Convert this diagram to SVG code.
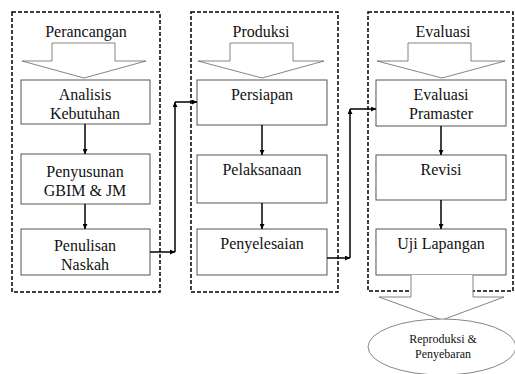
<svg xmlns="http://www.w3.org/2000/svg" width="515" height="374" viewBox="0 0 515 374">
<defs>
<marker id="ah" viewBox="0 0 10 10" refX="10" refY="5" markerWidth="5" markerHeight="5" orient="auto" markerUnits="userSpaceOnUse">
<path d="M0,0 L10,5 L0,10 Z" fill="#000"/>
</marker>
</defs>
<style>
.panel{fill:none;stroke:#000;stroke-width:1.5;stroke-dasharray:4,2}
.box{fill:#fff;stroke:#555;stroke-width:1}
.blk{fill:#fff;stroke:#666;stroke-width:0.8}
.t{font-size:16px;fill:#111;text-anchor:middle}
.s{font-size:12px;fill:#111;text-anchor:middle}
.c{fill:none;stroke:#000;stroke-width:1.5;marker-end:url(#ah)}
</style>
<rect width="515" height="374" fill="#fff"/>
<g font-family="'Liberation Serif', 'DejaVu Serif', serif">
<g id="panel-perancangan">
<rect class="panel" x="12" y="12" width="148" height="280"/>
<text class="t" x="86" y="37">Perancangan</text>
<path class="blk" d="M52,43 H115 V61 H146 L84,78 L22,61 H52 Z"/>
</g>
<g id="panel-produksi">
<rect class="panel" x="191" y="12" width="147" height="280"/>
<text class="t" x="261" y="37">Produksi</text>
<path class="blk" d="M230,43 H293 V61 H324 L262,78 L198,61 H230 Z"/>
</g>
<g id="panel-evaluasi">
<rect class="panel" x="368" y="12" width="145" height="279"/>
<text class="t" x="443" y="37">Evaluasi</text>
<path class="blk" d="M408,43 H471 V61 H505 L442,78 L377,61 H408 Z"/>
</g>
<g id="analisis">
<rect class="box" x="21" y="80" width="129" height="44"/>
<text class="t" x="85" y="100">Analisis</text>
<text class="t" x="85" y="119">Kebutuhan</text>
</g>
<g id="penyusunan">
<rect class="box" x="21" y="154" width="129" height="50"/>
<text class="t" x="85" y="177">Penyusunan</text>
<text class="t" x="85" y="196">GBIM &amp; JM</text>
</g>
<g id="penulisan">
<rect class="box" x="21" y="229" width="129" height="46"/>
<text class="t" x="85" y="251">Penulisan</text>
<text class="t" x="85" y="270">Naskah</text>
</g>
<g id="persiapan">
<rect class="box" x="197" y="80" width="130" height="45"/>
<text class="t" x="262" y="100">Persiapan</text>
</g>
<g id="pelaksanaan">
<rect class="box" x="197" y="155" width="130" height="48"/>
<text class="t" x="262" y="175">Pelaksanaan</text>
</g>
<g id="penyelesaian">
<rect class="box" x="197" y="229" width="130" height="46"/>
<text class="t" x="262" y="249">Penyelesaian</text>
</g>
<g id="evaluasi-pramaster">
<rect class="box" x="376" y="80" width="130" height="46"/>
<text class="t" x="441" y="100">Evaluasi</text>
<text class="t" x="441" y="119">Pramaster</text>
</g>
<g id="revisi">
<rect class="box" x="376" y="155" width="130" height="45"/>
<text class="t" x="441" y="175">Revisi</text>
</g>
<g id="uji-lapangan">
<rect class="box" x="376" y="229" width="130" height="46"/>
<text class="t" x="441" y="249">Uji Lapangan</text>
</g>
<g id="reproduksi">
<path class="blk" d="M411,275 V297 H379 L442,320 L504,297 H473 V275"/>
<ellipse class="blk" cx="442" cy="347" rx="74" ry="28"/>
<text class="s" x="443" y="343">Reproduksi &amp;</text>
<text class="s" x="443" y="358">Penyebaran</text>
</g>
</g>
<g id="connectors">
<line class="c" x1="85" y1="124" x2="85" y2="154"/>
<line class="c" x1="85" y1="204" x2="85" y2="229"/>
<line class="c" x1="262" y1="125" x2="262" y2="155"/>
<line class="c" x1="262" y1="203" x2="262" y2="229"/>
<line class="c" x1="441" y1="126" x2="441" y2="155"/>
<line class="c" x1="441" y1="200" x2="441" y2="229"/>
<line class="c" x1="150" y1="252" x2="175" y2="252"/>
<line class="c" x1="175" y1="252" x2="175" y2="102"/>
<line class="c" x1="175" y1="102" x2="197" y2="102"/>
<line class="c" x1="327" y1="258" x2="350" y2="258"/>
<line class="c" x1="350" y1="258" x2="350" y2="109"/>
<line class="c" x1="350" y1="109" x2="376" y2="109"/>
</g>
</svg>
